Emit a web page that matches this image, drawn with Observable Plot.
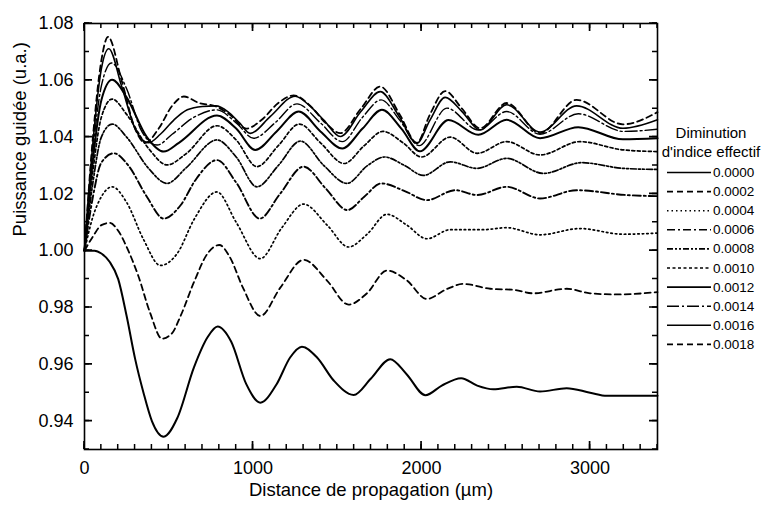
<!DOCTYPE html>
<html><head><meta charset="utf-8">
<script src="https://cdn.jsdelivr.net/npm/d3@7"></script>
<script src="https://cdn.jsdelivr.net/npm/@observablehq/plot@0.6"></script>
<style>
body{margin:0;background:#fff;}
#chart{position:relative;width:764px;height:510px;font-family:"Liberation Sans",Arial,sans-serif;}
#overlay{position:absolute;left:0;top:0;}
</style></head><body><div id="chart"></div>
<script>
const seriesLabels = ["0.0000","0.0002","0.0004","0.0006","0.0008","0.0010","0.0012","0.0014","0.0016","0.0018"];
const legendTitle = ["Diminution","d'indice effectif"];
const xLabel = "Distance de propagation (µm)";
const yLabel = "Puissance guidée (u.a.)";
const xTicks = [0,1000,2000,3000];
const yTicks = [0.94,0.96,0.98,1.00,1.02,1.04,1.06,1.08];
const xMinor = [0,100,200,300,400,500,600,700,800,900,1000,1100,1200,1300,1400,1500,1600,1700,1800,1900,2000,2100,2200,2300,2400,2500,2600,2700,2800,2900,3000,3100,3200,3300,3400];
const yMinor = [0.93,0.94,0.95,0.96,0.97,0.98,0.99,1.00,1.01,1.02,1.03,1.04,1.05,1.06,1.07,1.08];

const d0000 = [[0,1.000],[60,1.000],[100,0.999],[150,0.996],[200,0.990],[250,0.977],[300,0.962],[350,0.950],[400,0.940],[470,0.9345],[550,0.941],[650,0.959],[730,0.9695],[790,0.9733],[870,0.968],[960,0.953],[1043,0.9465],[1140,0.953],[1220,0.9624],[1290,0.9662],[1380,0.9624],[1480,0.9542],[1597,0.9492],[1700,0.955],[1814,0.9618],[1910,0.9566],[2023,0.9491],[2120,0.9525],[2235,0.9551],[2330,0.9525],[2426,0.9512],[2565,0.9521],[2703,0.9504],[2861,0.9516],[3000,0.9500],[3100,0.9489],[3400,0.9489]];
const d0002 = [[0,1.000],[50,1.005],[100,1.009],[150,1.0098],[200,1.007],[260,1.000],[320,0.991],[390,0.978],[460,0.969],[520,0.971],[570,0.977],[650,0.989],[730,0.999],[800,1.002],[860,0.998],[940,0.987],[1043,0.977],[1162,0.987],[1300,0.9968],[1439,0.9895],[1567,0.981],[1676,0.985],[1794,0.993],[1913,0.9895],[2031,0.983],[2150,0.9865],[2248,0.9883],[2407,0.9866],[2550,0.9862],[2663,0.985],[2861,0.9866],[3000,0.985],[3157,0.9846],[3400,0.9854]];
const d0004 = [[0,1.000],[50,1.012],[100,1.019],[164,1.0225],[250,1.017],[350,1.004],[450,0.9948],[550,0.999],[650,1.011],[786,1.0207],[900,1.010],[1043,0.9972],[1170,1.008],[1300,1.0164],[1440,1.009],[1567,1.0013],[1680,1.006],[1794,1.0128],[1913,1.009],[2031,1.0042],[2170,1.0074],[2367,1.0074],[2505,1.0081],[2703,1.0056],[2940,1.0078],[3195,1.0058],[3400,1.0062]];
const d0006 = [[0,1.000],[50,1.019],[100,1.031],[174,1.0343],[260,1.030],[370,1.019],[470,1.0113],[570,1.016],[660,1.025],[786,1.0319],[900,1.024],[1040,1.0113],[1160,1.020],[1300,1.0296],[1430,1.022],[1560,1.0143],[1660,1.019],[1760,1.0237],[1900,1.021],[2031,1.0178],[2200,1.0213],[2330,1.0196],[2505,1.0225],[2703,1.0184],[2920,1.0213],[3216,1.0196],[3400,1.0192]];
const d0008 = [[0,1.000],[50,1.024],[100,1.040],[164,1.0446],[250,1.040],[380,1.029],[490,1.0237],[600,1.029],[786,1.039],[900,1.033],[1023,1.0225],[1150,1.030],[1281,1.0386],[1420,1.030],[1557,1.0237],[1680,1.030],[1780,1.033],[1900,1.030],[2010,1.0265],[2170,1.0313],[2327,1.029],[2505,1.0325],[2723,1.0272],[2950,1.031],[3195,1.029],[3400,1.0286]];
const d0010 = [[0,1.000],[50,1.028],[100,1.047],[164,1.0534],[250,1.048],[380,1.036],[490,1.0302],[600,1.034],[786,1.0440],[900,1.039],[1023,1.0296],[1150,1.037],[1275,1.0446],[1400,1.038],[1540,1.0307],[1660,1.037],[1770,1.042],[1890,1.038],[2000,1.033],[2170,1.040],[2330,1.0343],[2505,1.0384],[2703,1.0337],[2940,1.0384],[3195,1.0355],[3400,1.0349]];
const d0012 = [[0,1.000],[50,1.032],[100,1.053],[164,1.0602],[250,1.054],[370,1.040],[470,1.0349],[560,1.038],[786,1.0476],[900,1.043],[1013,1.0355],[1140,1.042],[1271,1.049],[1400,1.042],[1530,1.036],[1650,1.043],[1765,1.0496],[1880,1.043],[1990,1.035],[2160,1.046],[2337,1.0408],[2505,1.0461],[2703,1.0396],[2930,1.0435],[3195,1.0392],[3400,1.0396]];
const d0014 = [[0,1.000],[50,1.035],[100,1.058],[160,1.0661],[250,1.057],[340,1.042],[431,1.0372],[520,1.041],[650,1.047],[786,1.0496],[900,1.045],[1004,1.0396],[1130,1.045],[1261,1.0517],[1400,1.045],[1530,1.0384],[1650,1.047],[1760,1.0531],[1870,1.046],[1985,1.037],[2150,1.0502],[2337,1.0425],[2505,1.049],[2703,1.041],[2930,1.0482],[3200,1.042],[3400,1.0428]];
const d0016 = [[0,1.000],[50,1.038],[100,1.064],[144,1.0711],[220,1.058],[300,1.043],[380,1.038],[450,1.041],[530,1.046],[610,1.0496],[700,1.0508],[780,1.051],[850,1.049],[920,1.045],[984,1.0413],[1103,1.0473],[1250,1.0544],[1340,1.0508],[1420,1.046],[1518,1.0402],[1640,1.049],[1755,1.056],[1870,1.047],[1972,1.0378],[2050,1.046],[2140,1.054],[2240,1.049],[2347,1.0425],[2505,1.0514],[2703,1.0418],[2920,1.051],[3195,1.0431],[3400,1.0461]];
const d0018 = [[0,1.000],[50,1.040],[100,1.067],[140,1.0753],[220,1.060],[300,1.043],[360,1.038],[440,1.043],[520,1.051],[590,1.0543],[680,1.052],[780,1.0508],[860,1.048],[960,1.043],[1050,1.046],[1150,1.052],[1241,1.0547],[1340,1.051],[1430,1.045],[1518,1.0414],[1640,1.050],[1755,1.0578],[1870,1.048],[1972,1.038],[2050,1.048],[2140,1.0562],[2240,1.050],[2347,1.0431],[2505,1.052],[2703,1.0414],[2920,1.0531],[3195,1.0445],[3400,1.0488]];

const seriesData = [d0000,d0002,d0004,d0006,d0008,d0010,d0012,d0014,d0016,d0018];
const seriesDash = [null,"6,4","1.5,3","8,3,2,3","6,2,2,2,2,2","3,2.5",null,"12,3,2,3",null,"6,4"];
const seriesWidth = [2,1.8,1.7,1.9,1.7,1.7,2,1.4,1.6,1.8];

const W = 764, H = 510, mL = 84, mR = 107, mT = 23, mB = 61;
const font = "'Liberation Sans', Arial, sans-serif";
const lines = seriesData.map((s, i) => Plot.line(s, {
  x: d => d[0], y: d => d[1], curve: "monotone-x",
  stroke: "#000", strokeWidth: seriesWidth[i],
  strokeDasharray: seriesDash[i] ?? undefined
}));

const plot = Plot.plot({
  width: W, height: H,
  marginLeft: mL, marginRight: mR, marginTop: mT, marginBottom: mB,
  style: {fontFamily: font, fontSize: "18px", background: "white", color: "#000"},
  x: {domain: [0, 3400]},
  y: {domain: [0.93, 1.08]},
  marks: [
    ...lines,
    Plot.axisX(xTicks, {anchor: "bottom", tickSize: 0, tickPadding: 12, tickFormat: d3.format("d"), label: null, fontSize: 18}),
    Plot.axisY(yTicks, {anchor: "left", tickSize: 0, tickPadding: 11, tickFormat: d3.format(".2f"), label: null, fontSize: 18}),
    Plot.frame({stroke: "#000", strokeWidth: 1.6}),
    Plot.text([xLabel], {frameAnchor: "bottom", dy: 46, fontSize: 18.5, text: d => d}),
    Plot.text([yLabel], {frameAnchor: "left", dx: -64, rotate: -90, fontSize: 18.5, text: d => d})
  ]
});

const chart = document.getElementById("chart");
chart.appendChild(plot);

const ov = d3.select(chart).append("svg").attr("id", "overlay")
  .attr("width", W).attr("height", H)
  .style("font-family", font).style("pointer-events", "none");

// inward ticks on all four sides, placed through Plot's own scales
const xs = plot.scale("x"), ys = plot.scale("y");
const x0 = mL, x1 = W - mR, y0 = mT, y1 = H - mB;
function tickPath(xv, yv, len) {
  let p = "";
  xv.forEach(v => { const px = xs.apply(v); p += `M${px},${y1}V${y1 - len}M${px},${y0}V${y0 + len}`; });
  yv.forEach(v => { const py = ys.apply(v); p += `M${x0},${py}H${x0 + len}M${x1},${py}H${x1 - len}`; });
  return p;
}
ov.append("path").attr("d", tickPath(xMinor, yMinor, 5)).attr("fill", "none").attr("stroke", "#000").attr("stroke-width", 1.5);
ov.append("path").attr("d", tickPath(xTicks, yTicks, 8)).attr("fill", "none").attr("stroke", "#000").attr("stroke-width", 1.7);

// legend
ov.append("text").attr("x", 711).attr("y", 138).attr("text-anchor", "middle")
  .attr("font-size", 15).text(legendTitle[0]);
ov.append("text").attr("x", 711).attr("y", 157).attr("text-anchor", "middle")
  .attr("font-size", 15).text(legendTitle[1]);
const lx0 = 667, lx1 = 711, ly0 = 172.5, lstep = 19.1;
seriesLabels.forEach((lab, i) => {
  const y = ly0 + i * lstep;
  const ln = ov.append("line").attr("x1", lx0).attr("x2", lx1).attr("y1", y).attr("y2", y)
    .attr("stroke", "#000").attr("stroke-width", Math.min(seriesWidth[i], 1.6));
  if (seriesDash[i]) ln.attr("stroke-dasharray", seriesDash[i]);
  ov.append("text").attr("x", 713).attr("y", y + 4.5).attr("font-size", 13.5).text(lab);
});
</script></body></html>
